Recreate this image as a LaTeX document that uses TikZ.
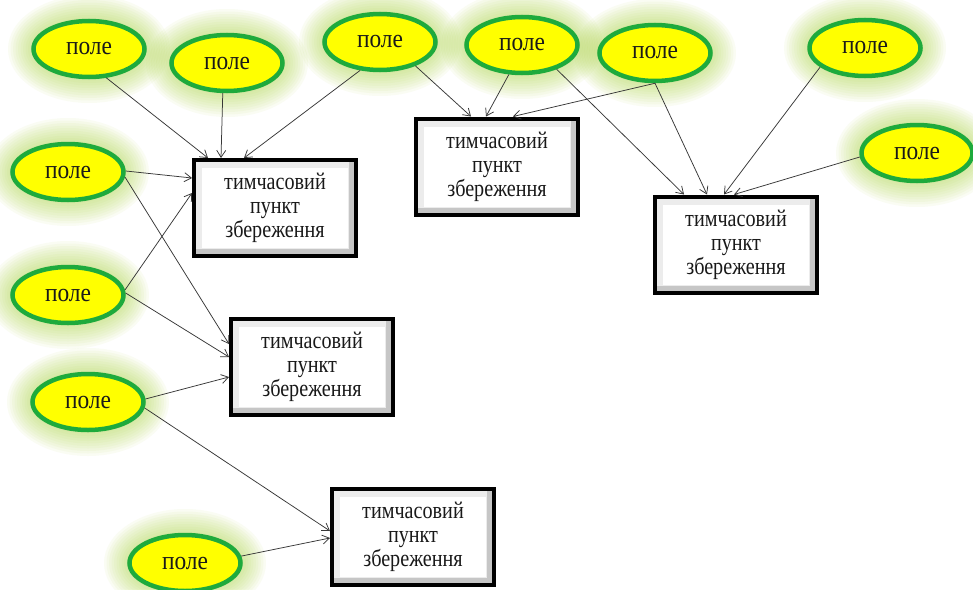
\documentclass[tikz,border=0pt]{standalone}
\usepackage{fontspec}
\setmainfont{Liberation Serif}
\newfontfamily\fieldfont[FakeStretch=0.9]{Liberation Serif}
\newfontfamily\depotfont[FakeStretch=0.84]{Liberation Serif}
\usetikzlibrary{arrows.meta,shapes.geometric}
\pgfdeclarelayer{background}
\pgfsetlayers{background,main}

\definecolor{fieldfill}{RGB}{255,255,0}
\definecolor{fieldedge}{RGB}{30,170,60}
\definecolor{halo}{RGB}{170,212,60}
\definecolor{link}{RGB}{55,55,55}
\definecolor{ink}{RGB}{25,25,25}

\tikzset{
  field/.style={ellipse, draw=fieldedge, line width=4.5pt, fill=fieldfill,
    minimum width=111pt, minimum height=56pt, inner sep=0pt, text=ink,
    font=\fieldfont\fontsize{26}{28}\selectfont},
  bevel/.style={path picture={
    \fill[gray!45] (path picture bounding box.south west) rectangle (path picture bounding box.north east);
    \fill[gray!15] (path picture bounding box.north west) rectangle ([xshift=-7pt,yshift=7pt]path picture bounding box.south east);
    \fill[white] ([xshift=8pt,yshift=-8pt]path picture bounding box.north west) rectangle ([xshift=-8pt,yshift=8pt]path picture bounding box.south east);
  }},
  depot/.style={rectangle, draw=black, line width=4pt, fill=white, bevel,
    minimum width=162pt, minimum height=96pt, inner sep=0pt, align=center, text=ink,
    font=\depotfont\fontsize{24}{24}\selectfont},
  feed/.style={draw=link, line width=0.75pt, -{Straight Barb[length=7pt,width=9pt]}}
}

\begin{document}
\begin{tikzpicture}[x=1pt,y=-1pt]
\useasboundingbox (0,0) rectangle (973,589);

% fields
\node[field] (e1)  at (89,49)   {поле};
\node[field] (e2)  at (227,63)  {поле};
\node[field] (e3)  at (380,42)  {поле};
\node[field] (e4)  at (522,45)  {поле};
\node[field] (e5)  at (655,53)  {поле};
\node[field] (e6)  at (865,48)  {поле};
\node[field] (e7)  at (917,153) {поле};
\node[field] (e8)  at (68,172)  {поле};
\node[field] (e9)  at (68,295)  {поле};
\node[field] (e10) at (88,402)  {поле};
\node[field] (e11) at (185,563) {поле};

% temporary storage points
\node[depot] (b1) at (275,208)   {тимчасовий\\пункт\\збереження};
\node[depot] (b2) at (497,166.5) {тимчасовий\\пункт\\збереження};
\node[depot] (b3) at (736,244.5) {тимчасовий\\пункт\\збереження};
\node[depot] (b4) at (312,367)   {тимчасовий\\пункт\\збереження};
\node[depot] (b5) at (413,537)   {тимчасовий\\пункт\\збереження};

% soft green halo behind the fields
\begin{pgfonlayer}{background}
  \fill[white] (0,0) rectangle (973,589);
  \foreach \n in {e1,e2,e3,e4,e5,e6,e7,e8,e9,e10,e11}{
    \foreach \k in {1,...,10}{
      \fill[halo, opacity=0.06] (\n.center) ellipse [x radius=56pt+2.5pt*\k, y radius=29pt+2.5pt*\k];
    }
  }
\end{pgfonlayer}

% links into b1
\draw[feed] (e1.-59)  -- ([xshift=16pt]b1.north west);
\draw[feed] (e2.-98)  -- ([xshift=29pt]b1.north west);
\draw[feed] (e3.-125) -- ([xshift=52pt]b1.north west);
\draw[feed] (e8.1)    -- ([yshift=-20pt]b1.north west);
\draw[feed] (e9.5)    -- ([yshift=-35pt]b1.north west);
% links into b4
\draw[feed] (e8.-5)   -- ([yshift=-27pt]b4.north west);
\draw[feed] (e9.2)    -- ([yshift=-40pt]b4.north west);
\draw[feed] (e10.3)   -- ([yshift=-60pt]b4.north west);
% links into b5
\draw[feed] (e10.-6)  -- ([yshift=-44pt]b5.north west);
\draw[feed] (e11.7)   -- ([yshift=-51pt]b5.north west);
% links into b2
\draw[feed] (e3.-34)  -- ([xshift=57pt]b2.north west);
\draw[feed] (e4.-114) -- ([xshift=72pt]b2.north west);
\draw[feed] (e5.-90)  -- ([xshift=99pt]b2.north west);
% links into b3
\draw[feed] (e4.-35)  -- ([xshift=31pt]b3.north west);
\draw[feed] (e5.-90)  -- ([xshift=54pt]b3.north west);
\draw[feed] (e6.-157) -- ([xshift=71pt]b3.north west);
\draw[feed] (e7.-176) -- ([xshift=81pt]b3.north west);
\end{tikzpicture}
\end{document}
